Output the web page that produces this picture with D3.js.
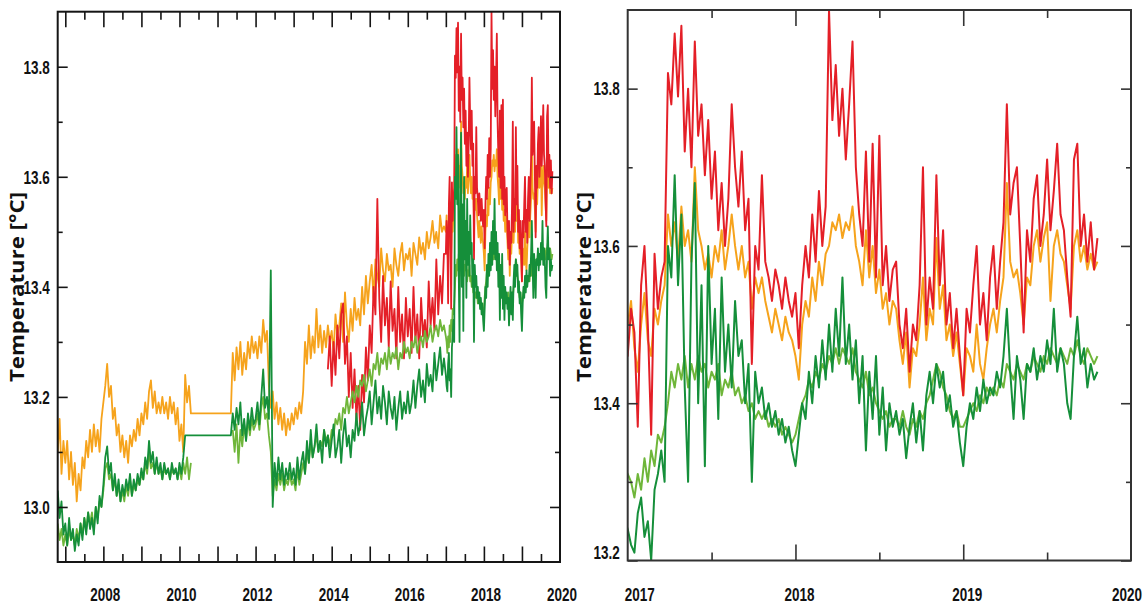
<!DOCTYPE html>
<html><head><meta charset="utf-8">
<script src="https://cdn.jsdelivr.net/npm/d3@7"></script>
<style>body{margin:0;background:#fff}</style>
</head><body><svg id="c" width="1145" height="606"></svg>
<script>
// ---- time axis of the series ----
const leftStart = 2006.8, leftStep = 0.05;   // early part, 2006.80 .. 2016.95
const redStart = 2013.9;                      // red starts later
const rightStart = 2017.0, rightStep = 0.02;  // detailed part, 2017.00 .. 2019.80

// ---- series values (°C) ----
const orangeEarly = [
13.10,13.16,13.06,13.12,
13.08,13.12,13.05,13.10,13.04,13.08,13.01,13.06,13.03,13.09,13.07,13.12,13.09,13.14,13.10,13.15,13.11,13.14,13.10,13.16,
13.19,13.22,13.26,13.20,13.22,13.16,13.18,13.13,13.15,13.10,13.13,13.09,13.12,13.08,13.13,13.11,13.14,13.12,13.16,13.13,
13.17,13.15,13.19,13.16,13.21,13.23,13.18,13.21,13.17,13.19,13.17,13.20,13.17,13.19,13.16,13.20,13.17,13.19,13.15,13.18,
13.12,13.15,13.10,13.24,13.19,13.22,13.17,13.17,13.17,13.17,13.17,13.17,13.17,13.17,13.17,13.17,13.17,13.17,13.17,13.17,
13.17,13.17,13.17,13.17,13.17,13.17,13.17,13.17,13.28,13.23,13.29,13.25,13.30,13.24,13.28,13.25,13.30,13.27,13.31,13.28,
13.30,13.27,13.31,13.28,13.34,13.30,13.32,13.22,13.18,13.21,13.16,13.19,13.15,13.18,13.14,13.17,13.13,13.16,13.14,13.17,
13.15,13.18,13.16,13.19,13.17,13.21,13.30,13.26,13.33,13.27,13.31,13.28,13.36,13.29,13.33,13.28,13.32,13.29,13.33,13.30,
13.32,13.28,13.35,13.31,13.33,13.37,13.30,13.39,13.33,13.30,13.36,13.32,13.38,13.34,13.36,13.33,13.40,13.35,13.42,13.37,
13.41,13.44,13.38,13.45,13.42,13.40,13.47,13.43,13.41,13.46,13.43,13.44,13.40,13.47,13.44,13.42,13.46,13.48,13.43,13.46,
13.45,13.47,13.42,13.48,13.46,13.44,13.49,13.46,13.48,13.45,13.50,13.47,13.49,13.52,13.48,13.50,13.47,13.53,13.50,13.51];
const orangeLate = [
13.50,13.53,13.47,13.44,13.50,13.54,13.48,13.46,13.52,13.50,
13.53,13.55,13.64,13.60,13.63,13.58,13.65,13.60,13.62,13.58,
13.70,13.62,13.60,13.57,13.59,13.56,13.60,13.58,13.62,13.57,
13.60,13.64,13.60,13.57,13.60,13.56,13.58,13.52,13.56,13.54,
13.56,13.53,13.51,13.49,13.52,13.50,13.48,13.51,13.49,13.48,
13.46,13.43,13.50,13.53,13.51,13.56,13.53,13.58,13.55,13.59,
13.60,13.63,13.62,13.64,13.61,13.63,13.62,13.65,13.60,13.58,
13.55,13.62,13.56,13.60,13.54,13.57,13.52,13.54,13.50,13.53,
13.52,13.48,13.45,13.49,13.42,13.47,13.46,13.50,13.56,13.48,
13.52,13.50,13.61,13.52,13.55,13.48,13.50,13.46,13.49,13.45,
13.41,13.47,13.46,13.44,13.50,13.45,13.43,13.47,13.50,13.52,
13.49,13.53,13.56,13.68,13.58,13.56,13.57,13.54,13.50,13.56,
13.55,13.60,13.62,13.58,13.61,13.63,13.53,13.60,13.62,13.59,
13.58,13.55,13.52,13.60,13.62,13.58,13.60,13.57,13.59,13.57,
13.58];

const redEarly = [
13.25,13.31,
13.22,13.30,13.24,13.33,13.27,13.35,13.37,13.26,13.31,13.20,13.28,13.18,13.25,13.16,13.22,13.14,13.24,13.19,13.29,13.23,
13.33,13.28,13.40,13.35,13.56,13.38,13.30,13.42,13.33,13.38,13.29,13.41,13.32,13.36,13.27,13.40,13.30,13.35,13.27,13.38,
13.31,13.36,13.28,13.40,13.30,13.35,13.27,13.38,13.31,13.34,13.29,13.41,13.33,13.38,13.32,13.45,13.35,13.42,13.37,13.46];
const redLate = [
13.46,13.52,13.49,13.37,13.55,13.60,13.50,13.36,13.59,13.52,
13.56,13.58,13.82,13.78,13.87,13.79,13.88,13.72,13.80,13.70,
13.86,13.74,13.78,13.69,13.76,13.66,13.72,13.62,13.68,13.60,
13.66,13.78,13.70,13.65,13.72,13.62,13.66,13.45,13.60,13.57,
13.69,13.58,13.56,13.53,13.57,13.55,13.52,13.56,13.53,13.51,
13.54,13.47,13.55,13.60,13.56,13.64,13.58,13.67,13.60,13.65,
13.90,13.76,13.83,13.74,13.80,13.71,13.78,13.86,13.70,13.64,
13.60,13.72,13.58,13.73,13.56,13.74,13.55,13.60,13.53,13.57,
13.58,13.50,13.47,13.52,13.44,13.50,13.48,13.55,13.70,13.50,
13.56,13.52,13.69,13.55,13.62,13.50,13.54,13.47,13.52,13.46,
13.41,13.52,13.49,13.55,13.60,13.50,13.54,13.48,13.56,13.60,
13.52,13.58,13.63,13.78,13.64,13.68,13.70,13.60,13.49,13.62,
13.58,13.66,13.69,13.60,13.64,13.71,13.62,13.67,13.73,13.64,
13.62,13.56,13.51,13.71,13.73,13.60,13.64,13.58,13.63,13.57,
13.61];

const lightGreenEarly = [
12.97,12.94,12.96,12.93,
12.95,12.93,12.96,12.94,12.95,12.93,12.96,12.94,12.97,12.95,12.98,12.96,12.99,12.97,12.99,12.96,13.00,12.98,13.01,13.00,
13.03,13.07,13.08,13.05,13.06,13.03,13.05,13.02,13.04,13.01,13.03,13.01,13.04,13.02,13.05,13.02,13.04,13.03,13.05,13.04,
13.06,13.05,13.08,13.06,13.10,13.07,13.08,13.06,13.08,13.06,13.07,13.05,13.07,13.06,13.07,13.05,13.07,13.06,13.07,13.05,
13.07,13.05,13.08,13.06,13.09,13.05,13.08,null,null,null,null,null,null,null,null,null,null,null,null,null,
null,null,null,null,null,null,null,null,13.14,13.10,13.15,13.08,13.14,13.11,13.15,13.12,13.16,13.13,13.16,13.14,
13.15,13.17,13.14,13.18,13.20,13.16,13.17,13.13,13.10,13.02,13.05,13.03,13.06,13.04,13.06,13.03,13.05,13.04,13.06,13.04,
13.05,13.03,13.07,13.04,13.06,13.08,13.06,13.10,13.08,13.12,13.09,13.11,13.13,13.10,13.12,13.11,13.14,13.12,13.13,13.11,
13.14,13.13,13.16,13.15,13.17,13.14,13.18,13.17,13.20,13.17,13.19,13.21,13.19,13.22,13.20,13.23,13.22,13.24,13.21,13.23,
13.25,13.22,13.26,13.25,13.28,13.24,13.27,13.26,13.28,13.25,13.29,13.26,13.28,13.27,13.29,13.25,13.28,13.27,13.30,13.28,
13.29,13.27,13.30,13.29,13.31,13.28,13.30,13.31,13.29,13.32,13.30,13.31,13.33,13.30,13.32,13.33,13.31,13.34,13.32,13.33];
const lightGreenLate = [
13.31,13.30,13.28,13.31,13.29,13.33,13.30,13.34,13.32,13.36,
13.35,13.37,13.40,13.44,13.42,13.45,13.43,13.46,13.42,13.45,
13.43,13.46,13.44,13.45,13.42,13.44,13.43,13.45,13.41,13.43,
13.42,13.44,13.41,13.42,13.40,13.41,13.39,13.40,13.38,13.39,
13.38,13.39,13.37,13.38,13.37,13.38,13.36,13.37,13.36,13.35,
13.36,13.38,13.40,13.41,13.43,13.42,13.44,13.43,13.45,13.44,
13.46,13.45,13.47,13.45,13.47,13.46,13.45,13.47,13.44,13.43,
13.42,13.44,13.41,13.42,13.40,13.39,13.38,13.39,13.37,13.38,
13.38,13.37,13.39,13.37,13.36,13.38,13.37,13.39,13.38,13.40,
13.41,13.43,13.45,13.44,13.42,13.41,13.39,13.38,13.39,13.37,
13.37,13.38,13.39,13.40,13.39,13.41,13.40,13.42,13.41,13.42,
13.41,13.43,13.42,13.45,13.44,13.43,13.45,13.44,13.43,13.45,
13.44,13.46,13.45,13.44,13.46,13.45,13.47,13.46,13.45,13.47,
13.46,13.45,13.47,13.46,13.48,13.46,13.45,13.47,13.46,13.45,
13.46];

const darkGreenEarly = [
13.03,12.98,13.01,12.95,
12.97,12.93,12.98,12.94,12.96,12.92,12.95,12.93,12.97,12.94,12.98,12.95,12.99,12.96,12.98,12.95,13.00,12.97,13.02,13.00,
13.04,13.09,13.11,13.06,13.08,13.03,13.06,13.02,13.05,13.01,13.04,13.02,13.05,13.03,13.06,13.02,13.05,13.03,13.06,13.04,
13.07,13.05,13.09,13.07,13.12,13.08,13.10,13.06,13.09,13.06,13.08,13.05,13.08,13.06,13.07,13.05,13.08,13.06,13.07,13.05,
13.08,13.06,13.09,13.13,13.13,13.13,13.13,13.13,13.13,13.13,13.13,13.13,13.13,13.13,13.13,13.13,13.13,13.13,13.13,13.13,
13.13,13.13,13.13,13.13,13.13,13.13,13.13,13.13,13.17,13.14,13.18,13.15,13.19,13.13,13.16,13.12,13.17,13.14,13.18,13.15,
13.16,13.19,13.15,13.20,13.25,13.18,13.20,13.16,13.43,13.00,13.08,13.04,13.09,13.05,13.08,13.04,13.07,13.05,13.08,13.05,
13.07,13.04,13.09,13.05,13.08,13.10,13.06,13.12,13.08,13.14,13.09,13.11,13.15,13.10,13.12,13.08,13.14,13.11,13.13,13.09,
13.12,13.15,13.09,13.11,13.14,13.08,13.13,13.16,13.11,13.13,13.09,13.14,13.12,13.17,13.13,13.15,13.19,13.13,13.16,13.18,
13.21,13.15,13.19,13.23,13.17,13.20,13.16,13.22,13.19,13.15,13.21,13.18,13.16,13.20,13.14,13.18,13.21,13.16,13.19,13.17,
13.21,13.17,13.19,13.23,13.18,13.22,13.25,13.20,13.23,13.19,13.26,13.22,13.24,13.21,13.28,13.23,13.26,13.29,13.24,13.27];
const darkGreenLate = [
13.24,13.22,13.21,13.26,13.28,13.23,13.25,13.20,13.29,13.31,
13.34,13.30,13.60,13.56,13.69,13.55,13.64,13.42,13.30,13.58,
13.68,13.40,13.55,13.32,13.60,13.45,13.52,13.38,13.56,13.44,
13.50,13.42,13.53,13.46,13.48,13.40,13.45,13.30,13.44,13.40,
13.42,13.38,13.40,13.37,13.39,13.36,13.38,13.35,13.37,13.34,
13.32,13.36,13.40,13.38,13.44,13.40,13.46,13.42,13.48,13.43,
13.50,13.44,13.52,13.46,13.56,13.45,13.50,13.43,13.48,13.40,
13.46,13.34,13.44,13.38,13.46,13.36,13.42,13.34,13.40,13.37,
13.39,13.36,13.38,13.33,13.37,13.40,13.35,13.39,13.34,13.41,
13.44,13.40,13.45,13.42,13.44,13.39,13.41,13.37,13.39,13.35,
13.32,13.37,13.40,13.38,13.42,13.39,13.43,13.40,13.42,13.41,
13.44,13.42,13.46,13.52,13.44,13.38,13.46,13.43,13.38,13.45,
13.44,13.47,13.43,13.46,13.44,13.48,13.45,13.52,13.44,13.47,
13.45,13.40,13.38,13.46,13.51,13.45,13.47,13.42,13.45,13.43,
13.44];

// ---- tick values / labels ----
const leftYMajor = [13.0,13.2,13.4,13.6,13.8];
const leftYMinor = [13.1,13.3,13.5,13.7];
const leftXMajor = [2007,2008,2009,2010,2011,2012,2013,2014,2015,2016,2017,2018,2019];
const leftXMinor = [2007.5,2008.5,2009.5,2010.5,2011.5,2012.5,2013.5,2014.5,2015.5,2016.5,2017.5,2018.5,2019.5];
const leftXLabels = [2008,2010,2012,2014,2016,2018,2020];
const rightYMajor = [13.2,13.4,13.6,13.8];
const rightYMinor = [13.3,13.5,13.7];
const rightXMajor = [2018,2019];
const rightXMinor = [2017.5,2018.5,2019.5];
const rightXLabels = [2017,2018,2019,2020];
const yTitle = "Temperature [°C]";

const colors = {orange:"#F6A31C", red:"#E41F27", lightGreen:"#6FB63A", darkGreen:"#158F3A"};

function makeSeries(early, earlyStart, late) {
  const pts = [];
  early.forEach((v,i)=>pts.push({x: earlyStart + i*leftStep, y: v}));
  late.forEach((v,i)=>pts.push({x: rightStart + i*rightStep, y: v}));
  return pts;
}
const series = [
  {color: colors.orange, pts: makeSeries(orangeEarly, leftStart, orangeLate)},
  {color: colors.red, pts: makeSeries(redEarly, redStart, redLate)},
  {color: colors.lightGreen, pts: makeSeries(lightGreenEarly, leftStart, lightGreenLate)},
  {color: colors.darkGreen, pts: makeSeries(darkGreenEarly, leftStart, darkGreenLate)}
];

const svg = d3.select("#c");
svg.append("rect").attr("width",1145).attr("height",606).attr("fill","#fff");
const tickFont = "'Liberation Sans',Arial,sans-serif";
const narrow = 0.71;

function panel(cfg) {
  const x = d3.scaleLinear().domain(cfg.xDomain).range([cfg.x0, cfg.x1]);
  const y = d3.scaleLinear().domain(cfg.yDomain).range([cfg.y1, cfg.y0]);
  const clipId = "clip" + cfg.id;
  svg.append("clipPath").attr("id", clipId).append("rect")
    .attr("x", cfg.x0).attr("y", cfg.y0).attr("width", cfg.x1 - cfg.x0).attr("height", cfg.y1 - cfg.y0);
  const line = d3.line().defined(d => d.y != null).x(d => x(d.x)).y(d => y(d.y));
  const dg = svg.append("g").attr("clip-path", `url(#${clipId})`);
  series.forEach(s => {
    dg.append("path").datum(s.pts).attr("d", line).attr("fill","none")
      .attr("stroke", s.color).attr("stroke-width", cfg.lw).attr("stroke-linejoin","round");
  });
  const ax = svg.append("g");
  function addAxis(axis, tx, ty) {
    const g = ax.append("g").attr("transform", `translate(${tx},${ty})`).call(axis);
    g.select(".domain").remove();
    g.selectAll("line").attr("stroke", cfg.frame).attr("stroke-width", 1.6);
    g.selectAll("text").remove();
  }
  addAxis(d3.axisBottom(x).tickValues(cfg.xMajor).tickSize(-cfg.xMajLen).tickFormat(""), 0, cfg.y1);
  addAxis(d3.axisBottom(x).tickValues(cfg.xMinor).tickSize(-cfg.xMinLen).tickFormat(""), 0, cfg.y1);
  addAxis(d3.axisTop(x).tickValues(cfg.xMajor).tickSize(-cfg.xMajLen).tickFormat(""), 0, cfg.y0);
  addAxis(d3.axisTop(x).tickValues(cfg.xMinor).tickSize(-cfg.xMinLen).tickFormat(""), 0, cfg.y0);
  addAxis(d3.axisLeft(y).tickValues(cfg.yMajor).tickSize(-10).tickFormat(""), cfg.x0, 0);
  addAxis(d3.axisLeft(y).tickValues(cfg.yMinor).tickSize(-5).tickFormat(""), cfg.x0, 0);
  addAxis(d3.axisRight(y).tickValues(cfg.yMajor).tickSize(-10).tickFormat(""), cfg.x1, 0);
  addAxis(d3.axisRight(y).tickValues(cfg.yMinor).tickSize(-5).tickFormat(""), cfg.x1, 0);
  svg.append("rect").attr("x", cfg.x0).attr("y", cfg.y0).attr("width", cfg.x1 - cfg.x0).attr("height", cfg.y1 - cfg.y0)
    .attr("fill","none").attr("stroke", cfg.frame).attr("stroke-width", 2);
  // labels (bold, horizontally condensed)
  svg.append("g").selectAll("text").data(cfg.yMajor).join("text")
    .attr("transform", d => `translate(${cfg.x0 - 8},${Math.min(y(d), cfg.y1 - 8)}) scale(${narrow},1)`)
    .attr("dy","0.36em")
    .attr("text-anchor","end").attr("font-family", tickFont).attr("font-weight","bold")
    .attr("font-size", 19).attr("fill","#111").text(d => d.toFixed(1));
  svg.append("g").selectAll("text").data(cfg.xLabels).join("text")
    .attr("transform", d => `translate(${Math.max(cfg.x0 + 12, Math.min(x(d) + cfg.xdx, 1127))},601) scale(${narrow},1)`)
    .attr("text-anchor","middle").attr("font-family", tickFont).attr("font-weight","bold")
    .attr("font-size", 19).attr("fill","#111").text(d => d);
  svg.append("text").attr("transform", `translate(${cfg.titleX},287) rotate(-90)`)
    .attr("text-anchor","middle").attr("font-family","'Open Sans',sans-serif").attr("font-weight","bold")
    .attr("font-size", 20).attr("fill","#111")
    .attr("textLength", 190).attr("lengthAdjust","spacingAndGlyphs").text(yTitle);
}

panel({id:"L", x0:57.7, x1:560, y0:11.7, y1:562, xDomain:[2006.8,2020], yDomain:[12.9,13.9],
  xMajor:leftXMajor, xMinor:leftXMinor, xMajLen:15.5, xMinLen:8, yMajor:leftYMajor, yMinor:leftYMinor,
  xLabels:leftXLabels, xdx:2, frame:"#151515", lw:1.8, titleX:24});
panel({id:"R", x0:627.7, x1:1131, y0:10, y1:560.5, xDomain:[2017,2020], yDomain:[13.2,13.9],
  xMajor:rightXMajor, xMinor:rightXMinor, xMajLen:16, xMinLen:8, yMajor:rightYMajor, yMinor:rightYMinor,
  xLabels:rightXLabels, xdx:4, frame:"#333", lw:2, titleX:591});
</script></body></html>
